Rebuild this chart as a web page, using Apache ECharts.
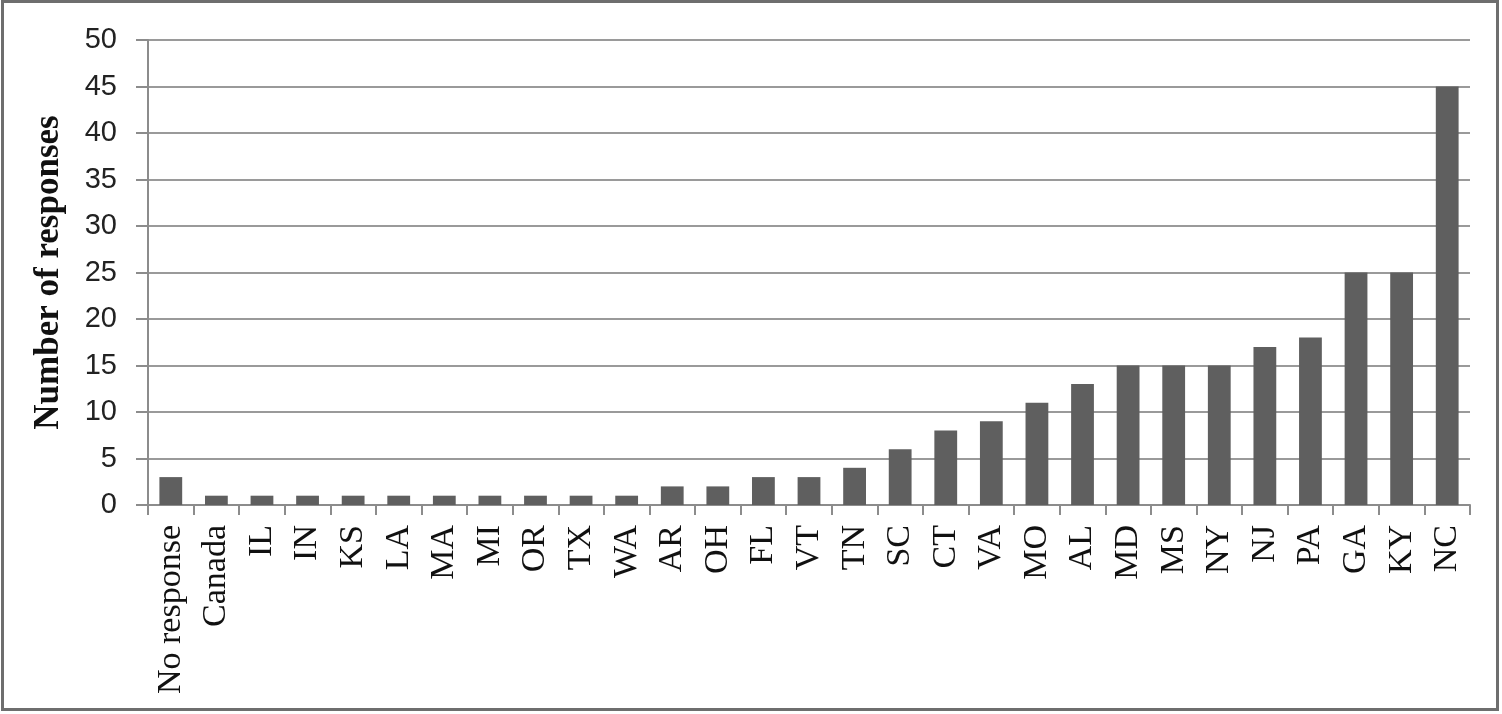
<!DOCTYPE html>
<html>
<head>
<meta charset="utf-8">
<script src="https://cdn.jsdelivr.net/npm/echarts@6/dist/echarts.min.js"></script>
<style>
html,body{margin:0;padding:0;background:#fff;}
#chart{width:1502px;height:714px;}
</style>
</head>
<body>
<div id="chart"></div>
<script>
const categories = ["No response","Canada","IL","IN","KS","LA","MA","MI","OR","TX","WA","AR","OH","FL","VT","TN","SC","CT","VA","MO","AL","MD","MS","NY","NJ","PA","GA","KY","NC"];
const responses = [3,1,1,1,1,1,1,1,1,1,1,2,2,3,3,4,6,8,9,11,13,15,15,15,17,18,25,25,45];
const yTitle = "Number of responses";

const chart = echarts.init(document.getElementById('chart'), null, {renderer:'canvas'});
chart.setOption({
  animation:false,
  backgroundColor:'#ffffff',
  graphic:[{
    type:'rect',
    shape:{x:2.5,y:1.5,width:1495,height:708},
    style:{fill:'none',stroke:'#6e6e6e',lineWidth:3},
    silent:true
  }],
  grid:{left:148,right:32,top:40,bottom:209,containLabel:false},
  xAxis:{
    type:'category',
    data:categories,
    boundaryGap:true,
    axisLine:{show:true,lineStyle:{color:'#8c8c8c',width:2}},
    axisTick:{show:true,length:10,lineStyle:{color:'#8c8c8c',width:2}},
    axisLabel:{
      rotate:90,interval:0,margin:20,
      fontFamily:'"Liberation Serif","Times New Roman",serif',
      fontSize:34,color:'#111'
    }
  },
  yAxis:{
    type:'value',
    min:0,max:50,interval:5,
    name:yTitle,
    nameLocation:'middle',
    nameGap:82,
    nameRotate:90,
    nameTextStyle:{
      fontFamily:'"Liberation Serif","Times New Roman",serif',
      fontWeight:'bold',fontSize:35,color:'#111'
    },
    axisLine:{show:true,lineStyle:{color:'#8c8c8c',width:2}},
    axisTick:{show:true,length:12,lineStyle:{color:'#8c8c8c',width:2}},
    splitLine:{show:true,lineStyle:{color:'#9a9a9a',width:2}},
    axisLabel:{
      margin:31,
      fontFamily:'"Liberation Sans",Arial,sans-serif',
      fontSize:29,color:'#222'
    }
  },
  series:[{
    type:'bar',
    data:responses,
    barWidth:'50%',
    itemStyle:{color:'#5f5f5f'}
  }]
});
</script>
</body>
</html>
